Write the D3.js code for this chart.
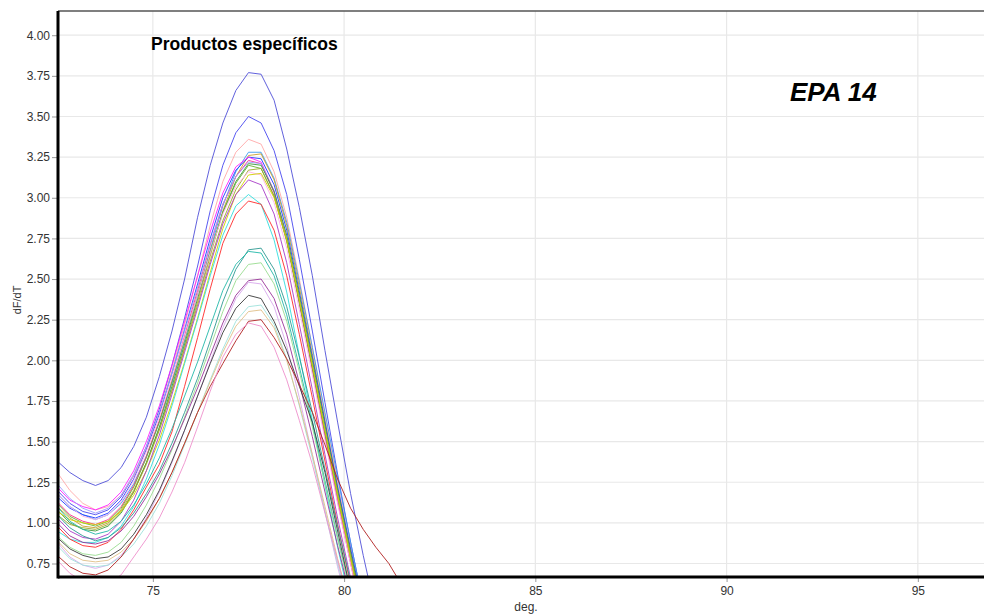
<!DOCTYPE html>
<html>
<head>
<meta charset="utf-8">
<script src="https://cdn.jsdelivr.net/npm/d3@7"></script>
<style>
  body { margin: 0; background: #fff; }
  svg { display: block; font-family: "Liberation Sans", Arial, sans-serif; }
</style>
</head>
<body>
<svg id="chart" width="984" height="616"></svg>
<script>
// melt temperatures (deg.)
const temps = [72.5, 72.83, 73.17, 73.5, 73.83, 74.17, 74.5, 74.83, 75.17, 75.5, 75.83, 76.17, 76.5, 76.83,
  77.17, 77.5, 77.83, 78.17, 78.5, 78.83, 79.17, 79.5, 79.83, 80.17, 80.5, 80.83, 81.17, 81.5];

// dF/dT for each sample
const blueTop    = [1.38,1.31,1.26,1.23,1.26,1.34,1.47,1.65,1.90,2.18,2.50,2.88,3.20,3.46,3.66,3.77,3.76,3.60,3.30,2.94,2.52,2.06,1.62,1.18,0.80,0.45,0.20,0.05];
const blueSecond = [1.20,1.12,1.07,1.05,1.08,1.16,1.29,1.47,1.70,1.97,2.26,2.58,2.92,3.20,3.40,3.50,3.46,3.29,3.02,2.62,2.18,1.74,1.30,0.88,0.50,0.20,0.05,0.00];
const salmon     = [1.31,1.20,1.12,1.08,1.10,1.17,1.29,1.46,1.68,1.94,2.22,2.52,2.83,3.10,3.28,3.36,3.33,3.16,2.88,2.50,2.08,1.66,1.25,0.85,0.48,0.18,0.00,0.00];
const steelBlue  = [1.18,1.10,1.05,1.02,1.05,1.12,1.24,1.41,1.62,1.86,2.12,2.40,2.68,2.95,3.16,3.28,3.28,3.12,2.85,2.48,2.08,1.68,1.28,0.88,0.50,0.18,0.00,0.00];
const goldenrod  = [1.10,1.03,0.98,0.97,1.00,1.08,1.20,1.37,1.58,1.82,2.08,2.36,2.64,2.92,3.13,3.26,3.27,3.11,2.83,2.45,2.04,1.63,1.22,0.82,0.45,0.15,0.00,0.00];
const bluePure   = [1.16,1.09,1.05,1.03,1.06,1.14,1.27,1.45,1.67,1.92,2.19,2.47,2.75,3.00,3.17,3.25,3.24,3.08,2.80,2.42,2.02,1.62,1.22,0.84,0.48,0.18,0.00,0.00];
const magenta    = [1.22,1.14,1.10,1.08,1.11,1.19,1.32,1.50,1.72,1.97,2.24,2.52,2.79,3.03,3.19,3.25,3.22,3.04,2.75,2.36,1.95,1.54,1.14,0.76,0.40,0.12,0.00,0.00];
const deepPink   = [1.13,1.05,1.01,0.99,1.02,1.10,1.23,1.41,1.63,1.88,2.15,2.43,2.71,2.96,3.13,3.23,3.21,3.03,2.74,2.35,1.94,1.53,1.13,0.75,0.40,0.12,0.00,0.00];
const lavBlue    = [1.24,1.15,1.09,1.06,1.09,1.17,1.30,1.47,1.68,1.92,2.18,2.45,2.72,2.96,3.13,3.22,3.21,3.04,2.76,2.38,1.98,1.58,1.18,0.80,0.44,0.15,0.00,0.00];
const darkGreen  = [1.08,1.00,0.96,0.95,0.98,1.06,1.19,1.37,1.59,1.84,2.10,2.38,2.66,2.91,3.10,3.21,3.20,3.04,2.77,2.40,2.00,1.60,1.20,0.82,0.46,0.16,0.00,0.00];
const green      = [1.12,1.04,1.00,0.98,1.01,1.09,1.22,1.40,1.62,1.87,2.13,2.40,2.67,2.91,3.09,3.20,3.18,3.01,2.73,2.35,1.95,1.55,1.16,0.78,0.42,0.14,0.00,0.00];
const olive      = [1.05,0.99,0.97,0.96,0.99,1.07,1.19,1.36,1.57,1.81,2.07,2.34,2.61,2.86,3.05,3.17,3.18,3.01,2.74,2.37,1.97,1.57,1.18,0.80,0.44,0.15,0.00,0.00];
const lightPink  = [1.18,1.10,1.04,1.02,1.05,1.13,1.26,1.44,1.65,1.89,2.14,2.40,2.66,2.90,3.07,3.16,3.14,2.97,2.69,2.31,1.91,1.51,1.12,0.75,0.40,0.12,0.00,0.00];
const yellow     = [1.07,1.02,1.00,0.99,1.01,1.07,1.17,1.32,1.51,1.74,1.99,2.26,2.54,2.81,3.02,3.14,3.15,3.00,2.74,2.37,1.97,1.57,1.17,0.78,0.42,0.14,0.00,0.00];
const purple     = [1.03,0.95,0.91,0.90,0.93,1.01,1.14,1.32,1.54,1.79,2.05,2.32,2.59,2.84,3.02,3.11,3.08,2.90,2.60,2.22,1.82,1.42,1.03,0.66,0.32,0.08,0.00,0.00];
const turquoise  = [0.95,0.90,0.88,0.88,0.91,0.98,1.10,1.27,1.48,1.72,1.98,2.25,2.52,2.77,2.95,3.02,2.96,2.74,2.42,2.03,1.63,1.23,0.85,0.50,0.18,0.00,0.00,0.00];
const red        = [0.98,0.90,0.86,0.85,0.88,0.96,1.08,1.22,1.36,1.56,1.84,2.14,2.44,2.72,2.90,2.98,2.96,2.80,2.52,2.16,1.77,1.38,0.99,0.62,0.28,0.05,0.00,0.00];
const teal       = [1.05,0.97,0.92,0.89,0.91,0.97,1.06,1.18,1.32,1.49,1.68,1.89,2.12,2.36,2.56,2.68,2.69,2.56,2.33,2.02,1.68,1.33,0.98,0.64,0.32,0.08,0.00,0.00];
const tealLight  = [1.10,1.01,0.96,0.93,0.95,1.01,1.11,1.24,1.40,1.58,1.78,1.99,2.21,2.43,2.59,2.67,2.66,2.52,2.28,1.96,1.61,1.26,0.91,0.58,0.27,0.05,0.00,0.00];
const paleGreen  = [0.92,0.85,0.81,0.80,0.82,0.88,0.98,1.11,1.27,1.45,1.65,1.86,2.08,2.30,2.49,2.59,2.60,2.47,2.24,1.93,1.59,1.24,0.90,0.57,0.26,0.05,0.00,0.00];
const plum       = [1.00,0.92,0.88,0.87,0.89,0.95,1.04,1.16,1.30,1.46,1.64,1.83,2.03,2.23,2.40,2.49,2.50,2.38,2.16,1.86,1.53,1.19,0.86,0.54,0.24,0.04,0.00,0.00];
const lavender   = [0.88,0.79,0.74,0.72,0.74,0.80,0.90,1.03,1.19,1.37,1.57,1.78,1.99,2.20,2.38,2.48,2.47,2.33,2.09,1.77,1.42,1.07,0.73,0.42,0.14,0.00,0.00,0.00];
const black      = [0.91,0.84,0.80,0.78,0.79,0.84,0.93,1.05,1.20,1.38,1.57,1.78,1.98,2.17,2.32,2.40,2.38,2.24,2.06,1.84,1.62,1.31,0.95,0.58,0.25,0.00,0.00,0.00];
const paleCyan   = [0.86,0.78,0.74,0.73,0.74,0.79,0.87,0.98,1.12,1.29,1.48,1.68,1.88,2.07,2.24,2.33,2.34,2.22,2.01,1.72,1.40,1.07,0.75,0.45,0.18,0.00,0.00,0.00];
const tan        = [0.89,0.81,0.77,0.76,0.77,0.82,0.90,1.01,1.15,1.31,1.49,1.68,1.87,2.05,2.21,2.30,2.31,2.20,2.00,1.73,1.42,1.10,0.78,0.48,0.20,0.00,0.00,0.00];
const darkRed    = [0.80,0.73,0.69,0.68,0.71,0.79,0.90,1.02,1.15,1.31,1.49,1.68,1.84,1.98,2.12,2.24,2.25,2.14,2.01,1.85,1.68,1.48,1.27,1.09,0.96,0.85,0.75,0.62];
const pink       = [0.77,0.69,0.64,0.62,0.63,0.68,0.79,0.90,1.03,1.19,1.37,1.59,1.81,2.02,2.16,2.23,2.21,2.08,1.88,1.63,1.36,1.06,0.77,0.46,0.15,0.00,0.00,0.00];

const series = [
  {values: blueTop, color: "#5050d8"},
  {values: blueSecond, color: "#4848f0"},
  {values: salmon, color: "#ffa8a8"},
  {values: steelBlue, color: "#3d9bf0"},
  {values: goldenrod, color: "#c8a030"},
  {values: bluePure, color: "#1f3cff"},
  {values: magenta, color: "#ff1fff"},
  {values: deepPink, color: "#ff2d8f"},
  {values: lavBlue, color: "#9c9cff"},
  {values: darkGreen, color: "#3c9a3c"},
  {values: green, color: "#66b033"},
  {values: olive, color: "#9aaa2a"},
  {values: lightPink, color: "#ffb0e8"},
  {values: yellow, color: "#d0d000"},
  {values: purple, color: "#a83cc8"},
  {values: turquoise, color: "#33dede"},
  {values: red, color: "#ff2a2a"},
  {values: teal, color: "#2f9a92"},
  {values: tealLight, color: "#22b8a8"},
  {values: paleGreen, color: "#99dd90"},
  {values: plum, color: "#993399"},
  {values: lavender, color: "#d8a8ec"},
  {values: black, color: "#3a3a3a"},
  {values: paleCyan, color: "#9ee2dc"},
  {values: tan, color: "#e0c088"},
  {values: darkRed, color: "#b02020"},
  {values: pink, color: "#ee90cc"}
];

const xTicks = [75, 80, 85, 90, 95];
const yTicks = [0.75, 1.00, 1.25, 1.50, 1.75, 2.00, 2.25, 2.50, 2.75, 3.00, 3.25, 3.50, 3.75, 4.00];

const plotLeft = 58, plotRight = 984, plotTop = 11, plotBottom = 577;

const svg = d3.select("#chart");

const x = d3.scaleLinear().domain([72.52, 96.73]).range([plotLeft, plotRight]);
const y = d3.scaleLinear().domain([0.667, 4.149]).range([plotBottom, plotTop]);

svg.append("clipPath").attr("id", "plot-clip")
  .append("rect")
  .attr("x", plotLeft).attr("y", plotTop)
  .attr("width", plotRight - plotLeft).attr("height", plotBottom - plotTop);

// grid
svg.append("g")
  .selectAll("line")
  .data(yTicks)
  .enter().append("line")
  .attr("x1", plotLeft).attr("x2", plotRight)
  .attr("y1", d => y(d)).attr("y2", d => y(d))
  .attr("stroke", "#e8e8e8").attr("stroke-width", 1.2);

svg.append("g")
  .selectAll("line")
  .data(xTicks)
  .enter().append("line")
  .attr("x1", d => x(d)).attr("x2", d => x(d))
  .attr("y1", plotTop).attr("y2", plotBottom)
  .attr("stroke", "#e8e8e8").attr("stroke-width", 1.2);

// curves
const line = d3.line()
  .x((d, i) => x(temps[i]))
  .y(d => y(d));

svg.append("g")
  .attr("clip-path", "url(#plot-clip)")
  .selectAll("path")
  .data(series)
  .enter().append("path")
  .attr("d", d => line(d.values))
  .attr("fill", "none")
  .attr("stroke", d => d.color)
  .attr("stroke-width", 1)
  .attr("stroke-opacity", 0.9);

// axes
const yAxis = svg.append("g")
  .attr("transform", "translate(" + plotLeft + ",0)")
  .call(d3.axisLeft(y).tickValues(yTicks).tickFormat(d3.format(".2f")).tickSize(6).tickSizeOuter(0));
const xAxis = svg.append("g")
  .attr("transform", "translate(0," + plotBottom + ")")
  .call(d3.axisBottom(x).tickValues(xTicks).tickFormat(d3.format("d")).tickSize(5).tickSizeOuter(0));

[yAxis, xAxis].forEach(g => {
  g.select(".domain").remove();
  g.selectAll(".tick line").attr("stroke", "#999");
  g.selectAll(".tick text").attr("fill", "#333").style("font-size", "12px");
});
yAxis.selectAll(".tick text").attr("x", -8);
xAxis.selectAll(".tick text").attr("y", 9);

// frame
svg.append("line")
  .attr("x1", plotLeft).attr("x2", plotRight).attr("y1", plotTop).attr("y2", plotTop)
  .attr("stroke", "#555").attr("stroke-width", 1.5);
svg.append("line")
  .attr("x1", plotLeft).attr("x2", plotLeft).attr("y1", plotTop).attr("y2", plotBottom + 1.5)
  .attr("stroke", "#000").attr("stroke-width", 3);
svg.append("line")
  .attr("x1", plotLeft).attr("x2", plotRight).attr("y1", plotBottom).attr("y2", plotBottom)
  .attr("stroke", "#000").attr("stroke-width", 3);

// labels
svg.append("text")
  .attr("transform", "translate(21,300) rotate(-90)")
  .attr("text-anchor", "middle")
  .style("font-size", "11px")
  .attr("fill", "#333")
  .text("dF/dT");

svg.append("text")
  .attr("x", 526).attr("y", 611)
  .attr("text-anchor", "middle")
  .style("font-size", "12px")
  .attr("fill", "#333")
  .text("deg.");

svg.append("text")
  .attr("x", 151).attr("y", 50)
  .style("font-size", "17.5px")
  .style("font-weight", "bold")
  .attr("fill", "#000")
  .text("Productos específicos");

svg.append("text")
  .attr("x", 790).attr("y", 101)
  .style("font-size", "26px")
  .style("font-weight", "bold")
  .style("font-style", "italic")
  .attr("fill", "#000")
  .text("EPA 14");
</script>
</body>
</html>
